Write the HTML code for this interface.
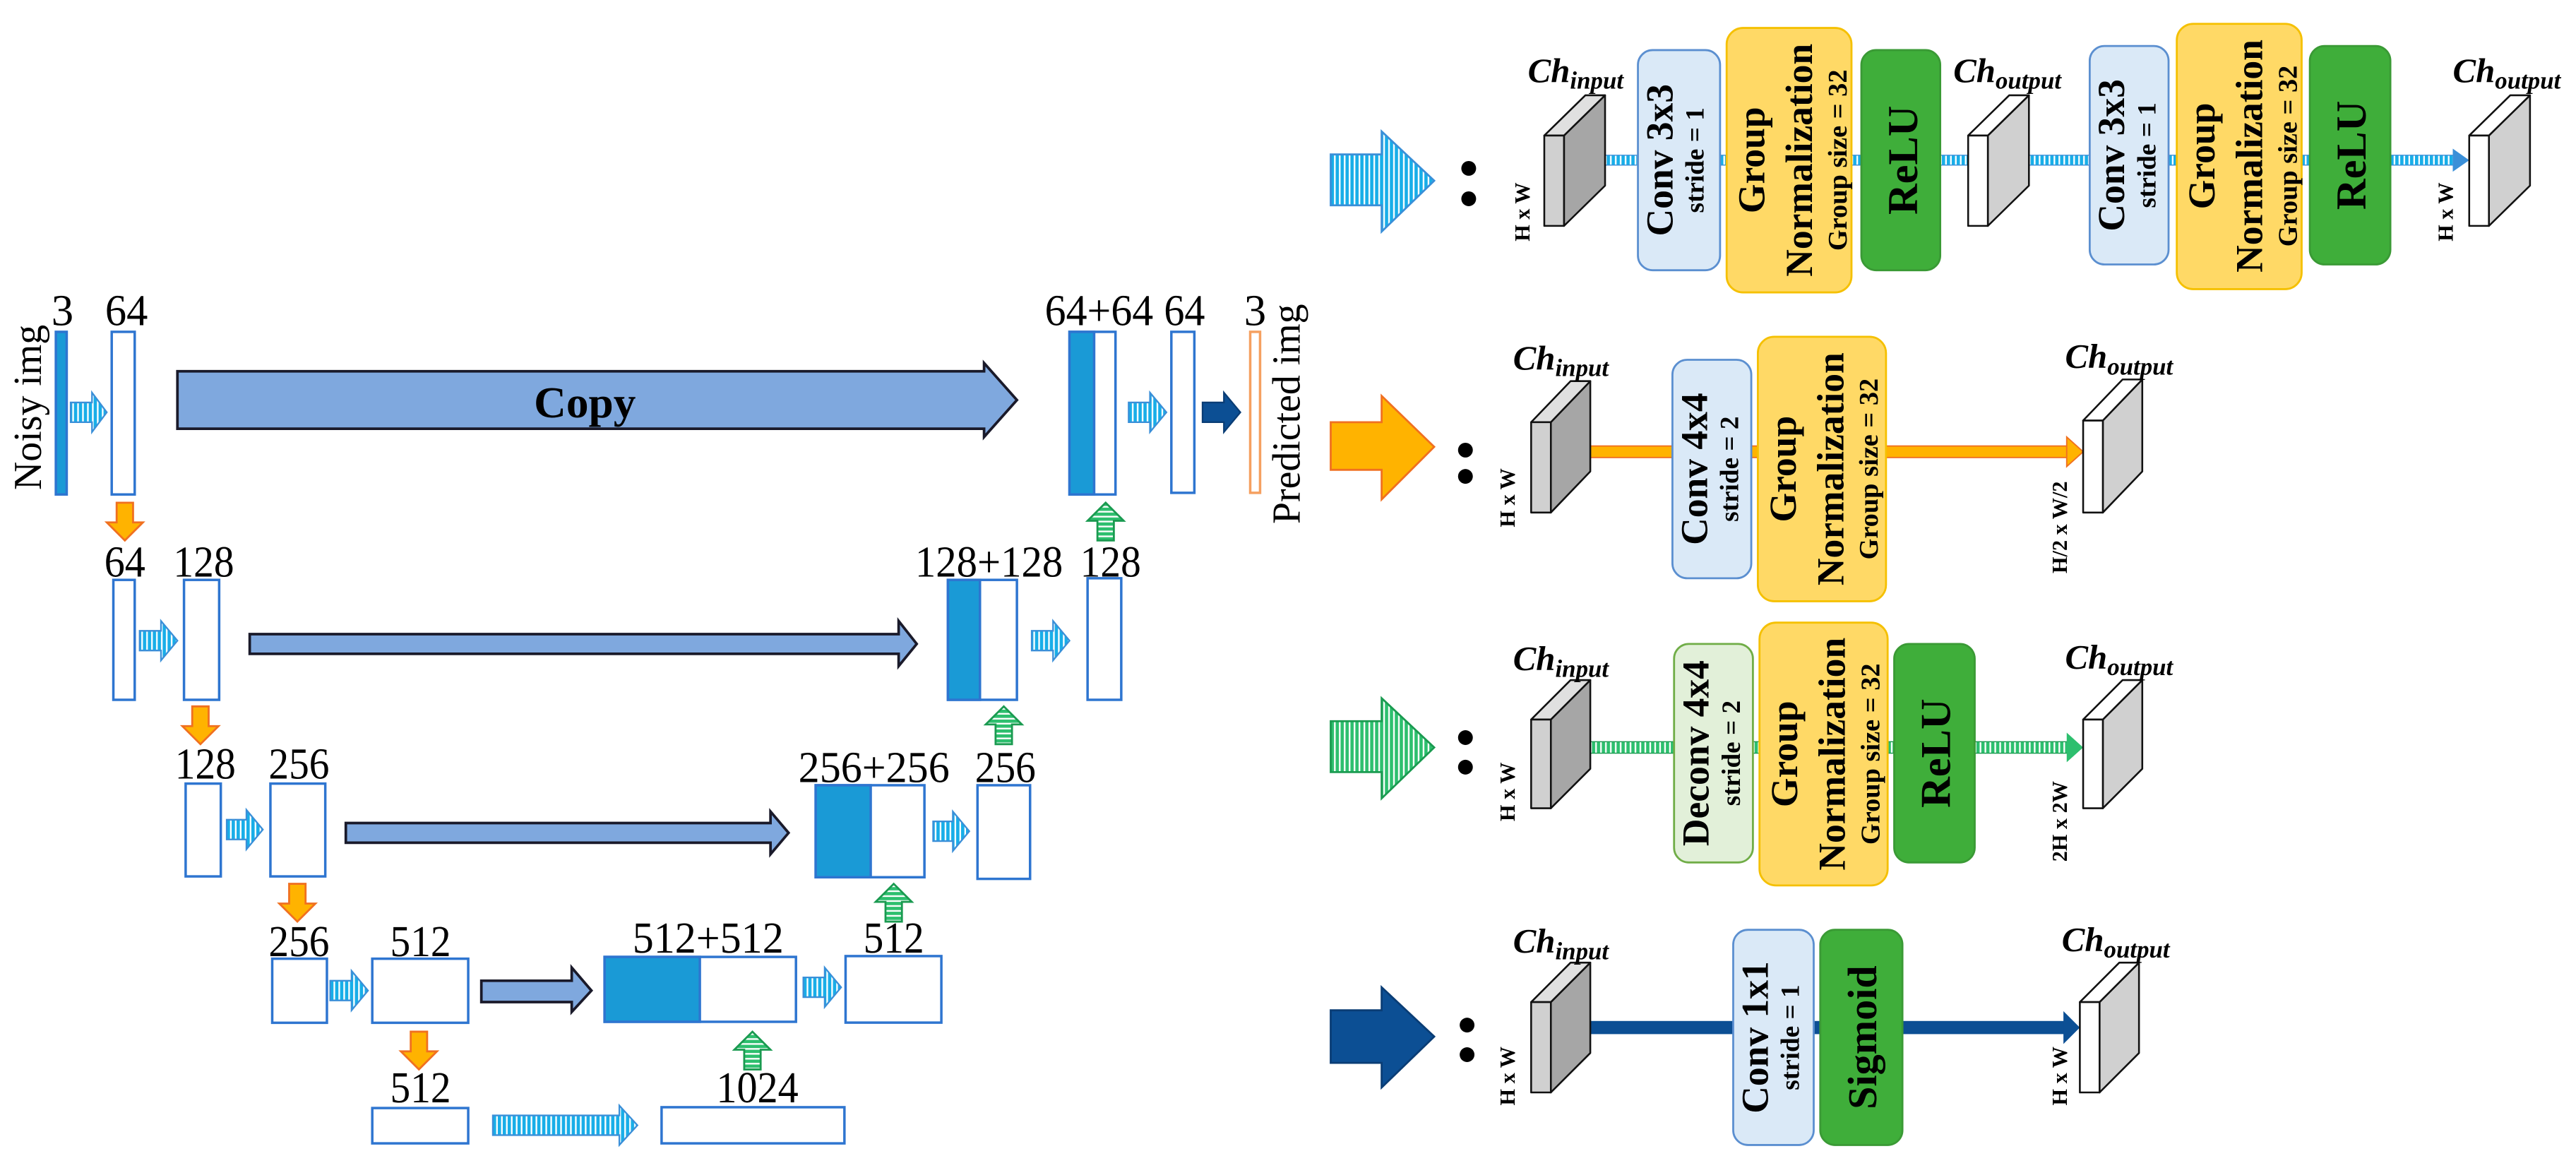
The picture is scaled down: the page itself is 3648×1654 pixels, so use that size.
<!DOCTYPE html>
<html><head><meta charset="utf-8"><style>
html,body{margin:0;padding:0;background:#fff;}
svg{display:block;}
text{font-family:"Liberation Serif",serif;}
</style></head><body>
<svg width="3648" height="1654" viewBox="0 0 1568 711" preserveAspectRatio="none" xmlns="http://www.w3.org/2000/svg">
<defs>
<pattern id="cs" width="3" height="10" patternUnits="userSpaceOnUse"><rect width="3" height="10" fill="#fff"/><rect width="2" height="10" fill="#18aee8"/></pattern>
<pattern id="gs" width="10" height="3" patternUnits="userSpaceOnUse"><rect width="10" height="3" fill="#fff"/><rect width="10" height="2" fill="#2dbf6e"/></pattern>
<pattern id="gv" width="3" height="10" patternUnits="userSpaceOnUse"><rect width="3" height="10" fill="#fff"/><rect width="2" height="10" fill="#2dbf6e"/></pattern>
</defs>
<rect width="1568" height="711" fill="#fff"/>

<!-- LEFT U-NET -->
<g font-size="27" text-anchor="middle" fill="#000">
<text transform="translate(25,248) rotate(-90)" font-size="24">Noisy img</text>
<text x="38" y="198">3</text>
<text x="77" y="198" textLength="26" lengthAdjust="spacingAndGlyphs">64</text>
<text x="669" y="198" textLength="66" lengthAdjust="spacingAndGlyphs">64+64</text>
<text x="721" y="198" textLength="25" lengthAdjust="spacingAndGlyphs">64</text>
<text x="764" y="198">3</text>
<text transform="translate(791,252) rotate(-90)" font-size="24">Predicted img</text>
<text x="76" y="351" textLength="25" lengthAdjust="spacingAndGlyphs">64</text>
<text x="124" y="351" textLength="37" lengthAdjust="spacingAndGlyphs">128</text>
<text x="602" y="351" textLength="90" lengthAdjust="spacingAndGlyphs">128+128</text>
<text x="676" y="351" textLength="37" lengthAdjust="spacingAndGlyphs">128</text>
<text x="125" y="474" textLength="37" lengthAdjust="spacingAndGlyphs">128</text>
<text x="182" y="474" textLength="37" lengthAdjust="spacingAndGlyphs">256</text>
<text x="532" y="476" textLength="92" lengthAdjust="spacingAndGlyphs">256+256</text>
<text x="612" y="476" textLength="37" lengthAdjust="spacingAndGlyphs">256</text>
<text x="182" y="582" textLength="37" lengthAdjust="spacingAndGlyphs">256</text>
<text x="256" y="582" textLength="37" lengthAdjust="spacingAndGlyphs">512</text>
<text x="431" y="580" textLength="92" lengthAdjust="spacingAndGlyphs">512+512</text>
<text x="544" y="580" textLength="37" lengthAdjust="spacingAndGlyphs">512</text>
<text x="256" y="671" textLength="37" lengthAdjust="spacingAndGlyphs">512</text>
<text x="461" y="671" textLength="50" lengthAdjust="spacingAndGlyphs">1024</text>
</g>

<g stroke="#2e75d0" stroke-width="1.5">
<rect x="34" y="202" width="6.6" height="99" fill="#1a9ad6"/>
<rect x="68" y="202" width="14" height="99" fill="#fff"/>
<rect x="651" y="202" width="28" height="99" fill="#fff"/>
<rect x="651" y="202" width="15" height="99" fill="#1a9ad6"/>
<rect x="713" y="202" width="14" height="98" fill="#fff"/>
<rect x="761" y="202" width="6" height="98" fill="#fff" stroke="#f5a060"/>
<rect x="69" y="353" width="13" height="73" fill="#fff"/>
<rect x="112" y="353" width="21.4" height="73" fill="#fff"/>
<rect x="577" y="353" width="42" height="73" fill="#fff"/>
<rect x="577" y="353" width="19.5" height="73" fill="#1a9ad6"/>
<rect x="662" y="352" width="20.5" height="74" fill="#fff"/>
<rect x="113" y="477" width="21.4" height="56.5" fill="#fff"/>
<rect x="164.6" y="477" width="33.4" height="56.5" fill="#fff"/>
<rect x="496.5" y="478" width="66.2" height="56" fill="#fff"/>
<rect x="496.5" y="478" width="33.5" height="56" fill="#1a9ad6"/>
<rect x="595" y="478" width="32" height="57" fill="#fff"/>
<rect x="165.7" y="583.6" width="33.3" height="39" fill="#fff"/>
<rect x="226.6" y="583.6" width="58.4" height="39" fill="#fff"/>
<rect x="368" y="582.5" width="116.5" height="39.5" fill="#fff"/>
<rect x="368" y="582.5" width="58" height="39.5" fill="#1a9ad6"/>
<rect x="514.7" y="582" width="58.3" height="40.5" fill="#fff"/>
<rect x="226.6" y="674.5" width="58.4" height="21.5" fill="#fff"/>
<rect x="402.7" y="674" width="111.3" height="22" fill="#fff"/>
</g>

<g fill="#7fa8de" stroke="#1a1a2a" stroke-width="1.6">
<polygon points="108,226 599,226 599,221 619,243.5 599,266 599,261 108,261"/>
<polygon points="152,386 547,386 547,378 558,392 547,405.5 547,398 152,398"/>
<polygon points="210.5,501 469,501 469,494 480,507 469,520 469,513 210.5,513"/>
<polygon points="293,597 348,597 348,589 360,603 348,616 348,610 293,610"/>
</g>
<text x="356" y="254" font-size="27" font-weight="bold" text-anchor="middle" textLength="62" lengthAdjust="spacingAndGlyphs">Copy</text>

<g fill="url(#cs)" stroke="#3a8fd8" stroke-width="1">
<polygon points="43,245 56,245 56,239 65,251 56,263 56,257 43,257"/>
<polygon points="687,245 700,245 700,239 710,251 700,263 700,257 687,257"/>
<polygon points="85,384 98,384 98,378 108,390 98,402 98,396 85,396"/>
<polygon points="628,384 641,384 641,378 651,390 641,402 641,396 628,396"/>
<polygon points="138,499 150,499 150,493 160,505 150,517 150,511 138,511"/>
<polygon points="568,500 580,500 580,494 590,506 580,518 580,512 568,512"/>
<polygon points="201,597 214,597 214,591 224,603 214,615 214,609 201,609"/>
<polygon points="489,595 502,595 502,589 512,601 502,613 502,607 489,607"/>
<polygon points="300,679 377,679 377,673 388,685 377,697 377,691 300,691"/>
</g>
<polygon points="732,245 745,245 745,239 755,251 745,263 745,257 732,257" fill="#0c4f94" stroke="#0a3d75" stroke-width="1"/>

<g fill="#ffb300" stroke="#f07020" stroke-width="1.2">
<polygon points="71,306 81,306 81,318 87,318 76,329 65,318 71,318"/>
<polygon points="117,430 127,430 127,442 133,442 122,453 111,442 117,442"/>
<polygon points="176,538 186,538 186,550 192,550 181,561 170,550 176,550"/>
<polygon points="250,628 260,628 260,640 266,640 255,651 244,640 250,640"/>
</g>
<g fill="url(#gs)" stroke="#1a9a50" stroke-width="1.2">
<polygon points="668,329 678,329 678,317 684,317 673,306 662,317 668,317"/>
<polygon points="606,453 616,453 616,441 622,441 611,430 600,441 606,441"/>
<polygon points="539,561 549,561 549,549 555,549 544,538 533,549 539,549"/>
<polygon points="453,651 463,651 463,639 469,639 458,628 447,639 453,639"/>
</g>

<polygon points="810,94 841,94 841,80 873,110 841,141 841,125 810,125" fill="url(#cs)" stroke="#3a8fd8" stroke-width="1.2"/>
<polygon points="810,257 841,257 841,241 873,272 841,304 841,286 810,286" fill="#ffb300" stroke="#f07020" stroke-width="1.2"/>
<polygon points="810,439 841,439 841,425 873,455 841,486 841,470 810,470" fill="url(#gv)" stroke="#1a9a50" stroke-width="1.2"/>
<polygon points="810,615 841,615 841,601 873,631 841,662 841,647 810,647" fill="#0c4f94" stroke="#0a3d75" stroke-width="1.2"/>
<g fill="#000">
<circle cx="894" cy="102.5" r="4.5"/><circle cx="894" cy="121" r="4.5"/>
<circle cx="892" cy="274" r="4.5"/><circle cx="892" cy="290" r="4.5"/>
<circle cx="892" cy="449" r="4.5"/><circle cx="892" cy="467" r="4.5"/>
<circle cx="893" cy="624" r="4.5"/><circle cx="893" cy="642" r="4.5"/>
</g>

<rect x="976" y="94.5" width="518" height="6" fill="url(#cs)" stroke="#3a8fd8" stroke-width="0.6"/>
<polygon points="1493,90.5 1503,97.5 1493,104.5" fill="#3a8fd8"/>
<rect x="967" y="271.5" width="292" height="7" fill="#ffb300" stroke="#f07020" stroke-width="0.8"/>
<polygon points="1258,266 1268,275 1258,284" fill="#ffb300" stroke="#f07020" stroke-width="0.8"/>
<rect x="967" y="451.5" width="292" height="7" fill="url(#gv)" stroke="#1a9a50" stroke-width="0.6"/>
<polygon points="1258,446 1268,455 1258,464" fill="#2dbf6e"/>
<rect x="967" y="621.5" width="290" height="8" fill="#0c4f94"/>
<polygon points="1256,615.5 1266,625.5 1256,635.5" fill="#0c4f94"/>

<g stroke="#111" stroke-width="1.1" stroke-linejoin="round">
<g><polygon points="952,82.5 977,58 977,113 952,137.5" fill="#a6a6a6"/><polygon points="940,82.5 965,58 977,58 952,82.5" fill="#e0e0e0"/><rect x="940" y="82.5" width="12" height="55" fill="#d0d0d0"/></g>
<g><polygon points="944,257 968,232 968,287 944,312" fill="#a6a6a6"/><polygon points="932,257 956,232 968,232 944,257" fill="#e0e0e0"/><rect x="932" y="257" width="12" height="55" fill="#d0d0d0"/></g>
<g><polygon points="944,438 968,414 968,468 944,492" fill="#a6a6a6"/><polygon points="932,438 956,414 968,414 944,438" fill="#e0e0e0"/><rect x="932" y="438" width="12" height="54" fill="#d0d0d0"/></g>
<g><polygon points="944,610 968,586 968,641 944,665" fill="#a6a6a6"/><polygon points="932,610 956,586 968,586 944,610" fill="#e0e0e0"/><rect x="932" y="610" width="12" height="55" fill="#d0d0d0"/></g>
<g><polygon points="1210,82.5 1235,58 1235,113 1210,137.5" fill="#d0d0d0"/><polygon points="1198,82.5 1223,58 1235,58 1210,82.5" fill="#fff"/><rect x="1198" y="82.5" width="12" height="55" fill="#fff"/></g>
<g><polygon points="1515,82.5 1540,58 1540,113 1515,137.5" fill="#d0d0d0"/><polygon points="1503,82.5 1528,58 1540,58 1515,82.5" fill="#fff"/><rect x="1503" y="82.5" width="12" height="55" fill="#fff"/></g>
<g><polygon points="1280,256 1304,231 1304,287 1280,312" fill="#d0d0d0"/><polygon points="1268,256 1292,231 1304,231 1280,256" fill="#fff"/><rect x="1268" y="256" width="12" height="56" fill="#fff"/></g>
<g><polygon points="1280,438 1304,414 1304,468 1280,492" fill="#d0d0d0"/><polygon points="1268,438 1292,414 1304,414 1280,438" fill="#fff"/><rect x="1268" y="438" width="12" height="54" fill="#fff"/></g>
<g><polygon points="1278,610 1302,586 1302,641 1278,665" fill="#d0d0d0"/><polygon points="1266,610 1290,586 1302,586 1278,610" fill="#fff"/><rect x="1266" y="610" width="12" height="55" fill="#fff"/></g>
</g>

<g stroke-width="1.2">
<rect x="997" y="30.5" width="50" height="134" rx="9" fill="#dae9f7" stroke="#5b8fd0"/>
<rect x="1051" y="17" width="76" height="161" rx="10" fill="#ffd966" stroke="#f5c000"/>
<rect x="1133" y="30.5" width="48" height="134" rx="9" fill="#3fae3a" stroke="#3a9a35"/>
<rect x="1272" y="28" width="48" height="133" rx="9" fill="#dae9f7" stroke="#5b8fd0"/>
<rect x="1325" y="14.5" width="76" height="161.5" rx="10" fill="#ffd966" stroke="#f5c000"/>
<rect x="1406" y="28" width="49" height="133" rx="9" fill="#3fae3a" stroke="#3a9a35"/>
<rect x="1018" y="219" width="48" height="133" rx="9" fill="#dae9f7" stroke="#5b8fd0"/>
<rect x="1070" y="205" width="78" height="161" rx="10" fill="#ffd966" stroke="#f5c000"/>
<rect x="1019" y="392" width="48" height="133" rx="9" fill="#e2f0d9" stroke="#70ad47"/>
<rect x="1071" y="379" width="78" height="160" rx="10" fill="#ffd966" stroke="#f5c000"/>
<rect x="1153" y="392" width="49" height="133" rx="9" fill="#3fae3a" stroke="#3a9a35"/>
<rect x="1055" y="566" width="49" height="131" rx="9" fill="#dae9f7" stroke="#5b8fd0"/>
<rect x="1108" y="566" width="50" height="131" rx="9" fill="#3fae3a" stroke="#3a9a35"/>
</g>

<g font-weight="bold" text-anchor="middle" fill="#000">
<text transform="translate(1018,97.5) rotate(-90)" font-size="23">Conv 3x3</text>
<text transform="translate(1037,97.5) rotate(-90)" font-size="16">stride = 1</text>
<text transform="translate(1074,97.5) rotate(-90)" font-size="23">Group</text>
<text transform="translate(1103,97.5) rotate(-90)" font-size="23">Normalization</text>
<text transform="translate(1124,97.5) rotate(-90)" font-size="16.5">Group size = 32</text>
<text transform="translate(1167,97.5) rotate(-90)" font-size="26">ReLU</text>
<text transform="translate(1293,94.5) rotate(-90)" font-size="23">Conv 3x3</text>
<text transform="translate(1312,94.5) rotate(-90)" font-size="16">stride = 1</text>
<text transform="translate(1348,95) rotate(-90)" font-size="23">Group</text>
<text transform="translate(1377,95) rotate(-90)" font-size="23">Normalization</text>
<text transform="translate(1398,95) rotate(-90)" font-size="16.5">Group size = 32</text>
<text transform="translate(1440,94.5) rotate(-90)" font-size="26">ReLU</text>
<text transform="translate(1039,285.5) rotate(-90)" font-size="23">Conv 4x4</text>
<text transform="translate(1058,285.5) rotate(-90)" font-size="16">stride = 2</text>
<text transform="translate(1093,285.5) rotate(-90)" font-size="23">Group</text>
<text transform="translate(1122,285.5) rotate(-90)" font-size="23">Normalization</text>
<text transform="translate(1143,285.5) rotate(-90)" font-size="16.5">Group size = 32</text>
<text transform="translate(1040,458.5) rotate(-90)" font-size="23">Deconv 4x4</text>
<text transform="translate(1059,458.5) rotate(-90)" font-size="16">stride = 2</text>
<text transform="translate(1094,459) rotate(-90)" font-size="23">Group</text>
<text transform="translate(1123,459) rotate(-90)" font-size="23">Normalization</text>
<text transform="translate(1144,459) rotate(-90)" font-size="16.5">Group size = 32</text>
<text transform="translate(1187,458.5) rotate(-90)" font-size="26">ReLU</text>
<text transform="translate(1076,631.5) rotate(-90)" font-size="23">Conv 1x1</text>
<text transform="translate(1095,631.5) rotate(-90)" font-size="16">stride = 1</text>
<text transform="translate(1142,631.5) rotate(-90)" font-size="25">Sigmoid</text>

<text transform="translate(931,129) rotate(-90)" font-size="13">H x W</text>
<text transform="translate(1493,129) rotate(-90)" font-size="13">H x W</text>
<text transform="translate(922,303) rotate(-90)" font-size="13">H x W</text>
<text transform="translate(1258,321) rotate(-90)" font-size="13">H/2 x W/2</text>
<text transform="translate(922,482) rotate(-90)" font-size="13">H x W</text>
<text transform="translate(1258,500) rotate(-90)" font-size="13">2H x 2W</text>
<text transform="translate(922,655) rotate(-90)" font-size="13">H x W</text>
<text transform="translate(1258,655) rotate(-90)" font-size="13">H x W</text>
</g>

<g font-weight="bold" font-style="italic" font-size="21" fill="#000">
<text x="930" y="50">Ch<tspan font-size="15" dy="4">input</tspan></text>
<text x="1189" y="50">Ch<tspan font-size="15" dy="4">output</tspan></text>
<text x="1493" y="50">Ch<tspan font-size="15" dy="4">output</tspan></text>
<text x="921" y="225">Ch<tspan font-size="15" dy="4">input</tspan></text>
<text x="1257" y="224">Ch<tspan font-size="15" dy="4">output</tspan></text>
<text x="921" y="408">Ch<tspan font-size="15" dy="4">input</tspan></text>
<text x="1257" y="407">Ch<tspan font-size="15" dy="4">output</tspan></text>
<text x="921" y="580">Ch<tspan font-size="15" dy="4">input</tspan></text>
<text x="1255" y="579">Ch<tspan font-size="15" dy="4">output</tspan></text>
</g>
</svg>
</body></html>
